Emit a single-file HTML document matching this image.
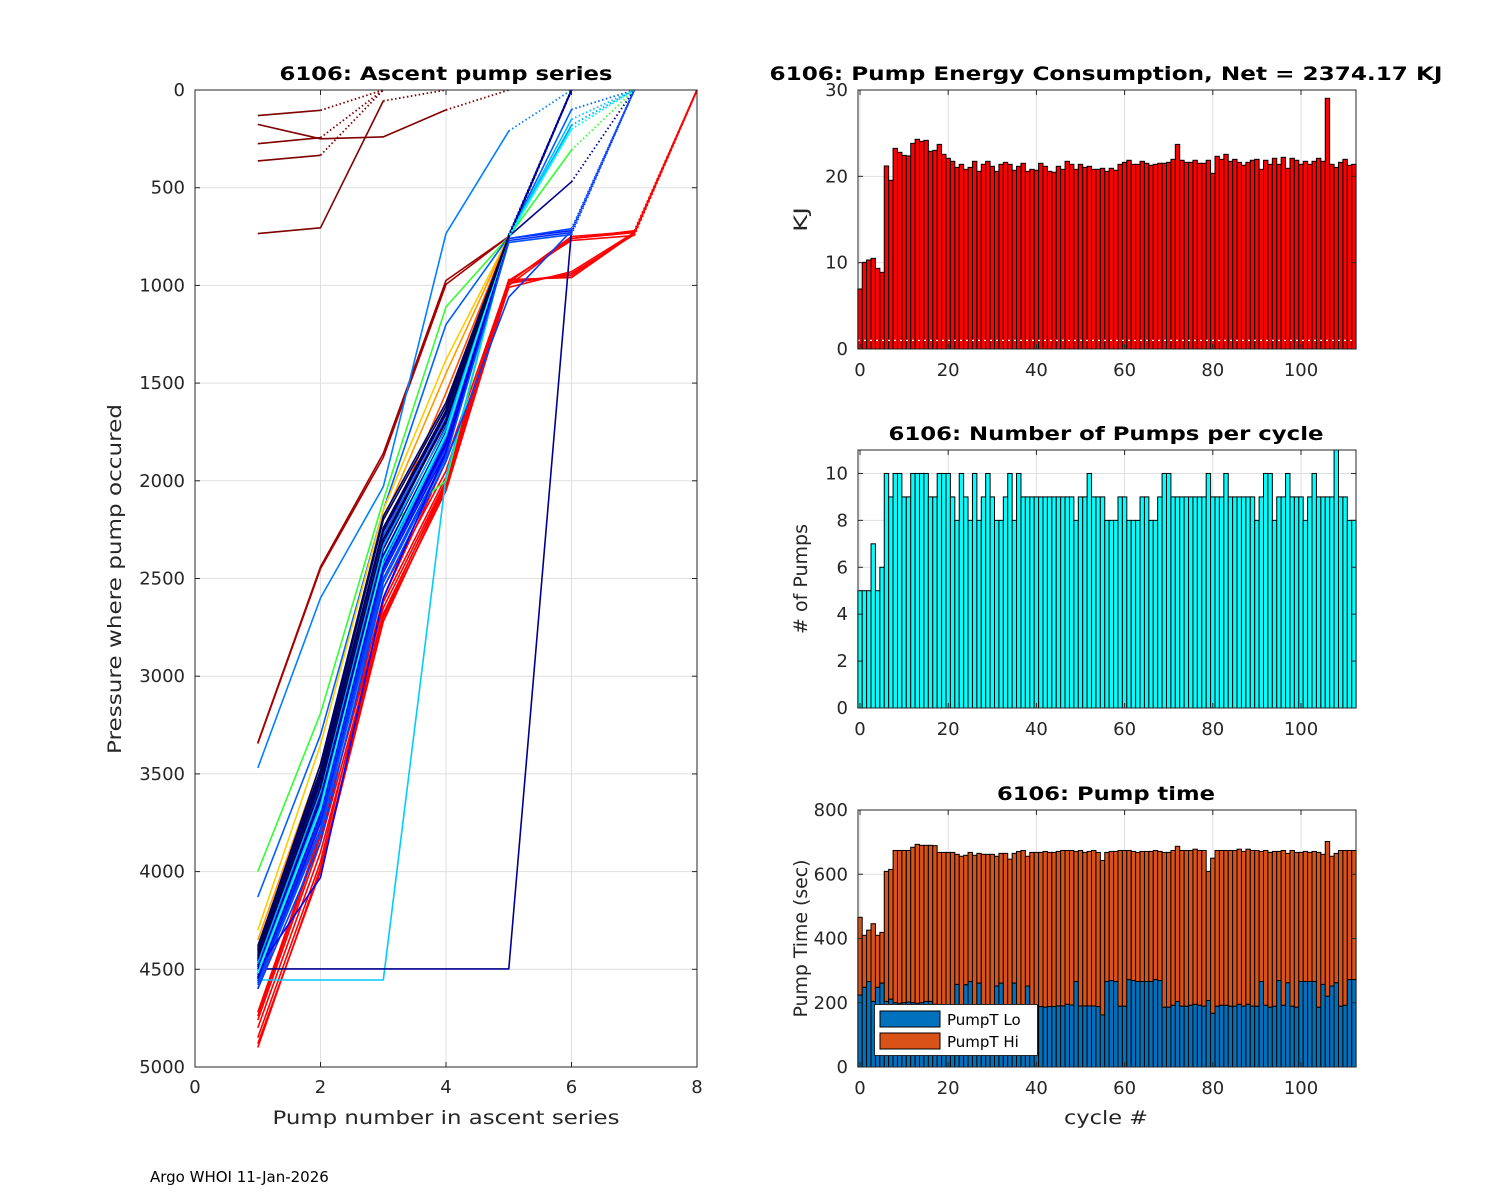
<!DOCTYPE html>
<html><head><meta charset="utf-8"><title>6106 pump charts</title>
<style>
html,body{margin:0;padding:0;background:#fff;}
svg{display:block;font-family:"DejaVu Sans","Liberation Sans",sans-serif;}
.tk{font-size:18px;fill:#262626;}
.tt{font-size:19px;font-weight:bold;fill:#000;}
.lb{font-size:19px;fill:#262626;}
</style></head>
<body>
<svg id="fig" width="1500" height="1200" viewBox="0 0 1500 1200" xmlns="http://www.w3.org/2000/svg">
<rect x="0" y="0" width="1500" height="1200" fill="#fff"/>
<g id="left"></g>
<g id="energy"></g>
<g id="pumps"></g>
<g id="ptime"></g>
<text x="150" y="1182" font-size="15" fill="#000" font-family="DejaVu Sans, sans-serif">Argo WHOI 11-Jan-2026</text>
</svg>
<script>
// ---------- Ascent pump series data (pressure at pump #1..N) ----------
const ascentColors = [
"#ff0000","#ff0000","#ff0000","#ff0000","#ff0000","#ff0000","#ff0000","#ff0000",
"#800000","#800000","#800000","#800000","#800000",
"#a00000","#a80000",
"#0080ff","#30ff30","#0060ff","#ffcc00","#ff9900","#ff5000","#30ff30",
"#00ccff","#000090","#000090",
"#000080","#00008f","#0000a0","#0000c0","#0000e0","#0000ff","#0010ff","#000070","#00006a","#000090",
"#0000b0","#0020ff","#0030ff","#0040ff","#0050ff","#0060ff","#00a0ff","#00c0ff","#000080","#0040ff",
"#0000ff","#000060","#000050","#0000d0","#00ffff","#000040"
];
const ascentPressures = [
[4720,3800,2650,2000,980,950,730,0],
[4760,3850,2680,2020,990,940,740,0],
[4800,3900,2700,2050,1000,760,720,0],
[4850,3950,2620,1980,970,960,735,0],
[4880,4000,2720,2030,985,750,725,0],
[4900,3980,2690,2010,1010,930,730,0],
[4740,3820,2600,1900,975,770,745,0],
[4600,3750,2550,1950,980,760,730,0],
[131,104,0],
[176,250,240,102,0],
[275,244,0],
[363,334,0],
[735,705,56,0],
[3340,2440,1860,975,750,0],
[3345,2450,1880,995,750,0],
[3470,2600,2030,735,210,0],
[4000,3190,2100,1110,750,307,0],
[4130,3300,2150,1200,750,0],
[4300,3350,2150,1380,750,0],
[4350,3450,2200,1450,750,0],
[4400,3500,2300,1550,750,0],
[4450,3500,2250,2000,750,200,0],
[4555,4555,4555,1980,750,0],
[4498,4498,4498,4498,4498,720,0],
[4450,3700,2400,1750,750,470,0],
[4420,3550,2300,1700,750,0],
[4450,3600,2350,1720,745,0],
[4480,3620,2380,1750,755,0],
[4500,3650,2400,1780,750,0],
[4520,3700,2420,1800,760,0],
[4540,3720,2450,1820,750,0],
[4560,3750,2470,1850,740,0],
[4400,3500,2250,1650,750,0],
[4380,3480,2200,1620,745,0],
[4460,3580,2320,1690,752,0],
[4490,3640,2390,1760,748,0],
[4530,3680,2410,1790,760,720,0],
[4550,3730,2460,1830,770,730,0],
[4570,3780,2500,1870,760,710,0],
[4580,3800,2520,1880,780,740,0],
[4440,3560,2280,1680,750,100,0],
[4470,3590,2330,1730,755,180,0],
[4510,3660,2430,1770,750,150,0],
[4430,3540,2260,1660,752,0],
[4600,3850,2550,1900,1060,720,0],
[4500,4030,2600,1850,750,0],
[4390,3450,2180,1600,748,0],
[4410,3520,2240,1640,751,0],
[4545,3690,2440,1810,755,0],
[4520,3680,2400,1760,750,200,0],
[4440,3570,2300,1690,750,0]
];
const ascentXTicks = [0,2,4,6,8];
const ascentYTicks = [0,500,1000,1500,2000,2500,3000,3500,4000,4500,5000];

// ---------- Energy per cycle (KJ) ----------
const energyValues = [
6.95,10.04,10.31,10.5,9.34,8.88,
21.2,19.54,23.24,22.78,22.43,22.36,
23.82,24.29,24.05,24.17,22.9,23.01,
23.7,22.55,22.09,21.74,21.04,21.39,
20.81,21.04,21.74,20.58,21.39,21.74,
21.16,20.58,21.39,21.62,21.39,20.7,
21.16,21.51,20.58,20.81,20.7,21.51,
21.16,20.58,20.47,21.16,20.81,21.74,
21.39,20.81,21.39,21.04,21.16,20.81,
20.81,20.93,20.58,20.93,
20.7,21.39,21.62,21.86,21.39,21.39,
21.74,21.51,21.28,21.39,21.51,21.51,
21.62,21.97,23.7,21.86,21.62,21.62,
21.86,21.51,21.51,21.86,20.35,22.32,
21.97,22.55,21.74,21.97,21.62,21.28,
21.62,21.86,21.97,20.81,21.86,21.39,
22.09,21.39,22.2,20.93,22.09,21.86,
21.39,21.74,21.39,21.74,22.09,21.74,
29.04,21.39,21.04,21.62,21.97,21.28,21.39
];
const energyYTicks = [0,10,20,30];
const energyRefLine = [1];

// ---------- Number of pumps per cycle ----------
const pumpCounts = [
5,5,5,7,5,6, 10,9,10,10,9,9, 10,10,10,10,9,9, 10,10,10,9,8,10, 9,8,10,8,9,10, 9,8,8,9,10,8, 10,
9,9,9,9,9,9,9,9,9,9,9,9,
8,9,9,10,9,9,9,
8,8,8, 9,9, 8,8,8, 9,9, 8,8, 9, 10,10, 9,9,9,9,9,9,9,9, 10, 9,9,9, 10,
9,9,9,9,9,9, 8, 9, 10,10, 8, 9,9, 10, 9,9,9, 8, 9, 10, 9,9,9,9, 11, 9,9, 8,8
];
const pumpYTicks = [0,2,4,6,8,10];

// ---------- Pump time per cycle (sec) ----------
const pumpTimeTotal = [
466,410,426,446,410,419, 609,615, 674,674,674,674, 684,693,690,690,690,689,
668,668,668,668, 662,656,659,668,659,665, 662,662,662,656,665,665,647,665,671,674,656,668,
668,668,671,668,668,671, 674,674,674, 671,674,668,671,674,668,643,
668,671,671,674,674,674,671,668,671,671,671,674,671,668,668,674,687,674,674,674,678,674,674,
609,650,674,674,674,674,674,678,671,678,674,674,671,674,668,671,671,674,665,674,668,668,
671,668,671,668,662,702,656,665,674,674,674,674
];
const pumpTimeLo = [
224,248,266,204,248,261,204,211, 200,198,200,202,200,198,200,204,204,195,
190,192,188,190, 257,190,256,266,190,261,192,188,190,252,261,190,188,261,190,192,252,190,188,
188,186,188,188,190,190,195,193,266,190,190,190,190,188,162,
266,269,266,189,189,272,269,266,266,266,266,272,269,186,186,192,204,189,189,192,195,192,189,
207,167,189,192,192,189,189,195,189,195,189,189,266,192,186,189,269,192,262,189,186,266,266,
266,266,186,257,220,252,262,189,192,272,272
];
const pumpTimeYTicks = [0,200,400,600,800];
const cycleXTicks = [0,20,40,60,80,100];
const legendLabels = ["PumpT Lo","PumpT Hi"];
const legendColors = ["#0072bd","#d95319"];
</script>
<script>
const NS = "http://www.w3.org/2000/svg";
function mk(parent, tag, attrs, txt){
  const e = document.createElementNS(NS, tag);
  for (const k in attrs) e.setAttribute(k, attrs[k]);
  if (txt !== undefined) e.textContent = txt;
  parent.appendChild(e);
  return e;
}
const GRID = "#dfdfdf", AX = "#262626";

// ===================== Left chart =====================
(function(){
  const g = document.getElementById('left');
  const L=195, R=697, T=90, B=1067;
  const xs = v => L + (v-0)/(8-0)*(R-L);
  const ys = p => T + p/5000*(B-T);
  ascentXTicks.forEach(v=>{
    const l = mk(g,'line',{x1:xs(v),x2:xs(v),y1:T,y2:B,stroke:GRID,'stroke-width':1});
    
    
  });
  ascentYTicks.forEach(v=>{
    const l = mk(g,'line',{x1:L,x2:R,y1:ys(v),y2:ys(v),stroke:GRID,'stroke-width':1});
    
    
  });
  ascentPressures.forEach((ps,i)=>{
    const col = ascentColors[i];
    const n = ps.length;
    const pts = [];
    for (let k=0;k<n-1;k++) pts.push(xs(k+1).toFixed(1)+','+ys(ps[k]).toFixed(1));
    const solid = mk(g,'polyline',{points:pts.join(' '),fill:'none',stroke:col,'stroke-width':1.6,'stroke-linejoin':'round'});
    
    
    const d = mk(g,'line',{x1:xs(n-1),y1:ys(ps[n-2]),x2:xs(n),y2:ys(ps[n-1]),stroke:col,'stroke-width':1.8,'stroke-dasharray':'1.5,2.5'});
    
    
  });
  const box = mk(g,'rect',{x:L,y:T,width:R-L,height:B-T,fill:'none',stroke:AX,'stroke-width':1});
  
  
  ascentXTicks.forEach(v=>{
    mk(g,'line',{x1:xs(v),x2:xs(v),y1:B,y2:B-5,stroke:AX});
    mk(g,'line',{x1:xs(v),x2:xs(v),y1:T,y2:T+5,stroke:AX});
    const t = mk(g,'text',{x:xs(v),y:B+26,'text-anchor':'middle',class:'tk'},String(v));
    
    
  });
  ascentYTicks.forEach(v=>{
    mk(g,'line',{x1:L,x2:L+5,y1:ys(v),y2:ys(v),stroke:AX});
    mk(g,'line',{x1:R,x2:R-5,y1:ys(v),y2:ys(v),stroke:AX});
    const t = mk(g,'text',{x:L-10,y:ys(v)+6,'text-anchor':'end',class:'tk'},String(v));
    
    
  });
  const tt = mk(g,'text',{x:446,y:80,'text-anchor':'middle',class:'tt',textLength:333,lengthAdjust:'spacingAndGlyphs'},'6106: Ascent pump series');
  
  
  const xl = mk(g,'text',{x:446,y:1124,'text-anchor':'middle',class:'lb',textLength:347,lengthAdjust:'spacingAndGlyphs'},'Pump number in ascent series');
  
  
  const yl = mk(g,'text',{x:0,y:0,'text-anchor':'middle',class:'lb',transform:'translate(121,579) rotate(-90)',textLength:350,lengthAdjust:'spacingAndGlyphs'},'Pressure where pump occured');
  
  
})();

// ===================== Right charts helpers =====================
const RL=858, RR=1356;
const xc = v => 860 + v*4.41;
const BW = 4.41;
function frame(g, T, B, ymax, yticks, ytitle, ylen, title, tlen, titleName){
  const ys = v => B - v/ymax*(B-T);
  cycleXTicks.forEach(v=>{
    const l = mk(g,'line',{x1:xc(v),x2:xc(v),y1:T,y2:B,stroke:GRID});
    
    
  });
  yticks.forEach(v=>{
    const l = mk(g,'line',{x1:RL,x2:RR,y1:ys(v),y2:ys(v),stroke:GRID});
    
    
  });
  const t = mk(g,'text',{x:1106,y:T-10,'text-anchor':'middle',class:'tt',textLength:tlen,lengthAdjust:'spacingAndGlyphs'},title);
  
  
  const yl = mk(g,'text',{x:0,y:0,'text-anchor':'middle',class:'lb',transform:'translate(807,'+((T+B)/2)+') rotate(-90)',textLength:ylen,lengthAdjust:'spacingAndGlyphs'},ytitle);
  
  
  return ys;
}
function axesOver(g, T, B, ys, yticks){
  const box = mk(g,'rect',{x:RL,y:T,width:RR-RL,height:B-T,fill:'none',stroke:AX});
  
  
  cycleXTicks.forEach(v=>{
    mk(g,'line',{x1:xc(v),x2:xc(v),y1:B,y2:B-5,stroke:AX});
    mk(g,'line',{x1:xc(v),x2:xc(v),y1:T,y2:T+5,stroke:AX});
    const t = mk(g,'text',{x:xc(v),y:B+27,'text-anchor':'middle',class:'tk'},String(v));
    
    
  });
  yticks.forEach(v=>{
    mk(g,'line',{x1:RL,x2:RL+5,y1:ys(v),y2:ys(v),stroke:AX});
    mk(g,'line',{x1:RR,x2:RR-5,y1:ys(v),y2:ys(v),stroke:AX});
    const t = mk(g,'text',{x:RL-10,y:ys(v)+6,'text-anchor':'end',class:'tk'},String(v));
    
    
  });
}

// ===================== Energy =====================
(function(){
  const g = document.getElementById('energy');
  const T=90,B=349;
  const ys = frame(g,T,B,30,energyYTicks,'KJ',25,'6106: Pump Energy Consumption,  Net = 2374.17 KJ',673,'energy-chart-title');
  energyValues.forEach((v,i)=>{
    const r = mk(g,'rect',{x:xc(i)-BW/2,y:ys(v),width:BW,height:B-ys(v),fill:'#ff0000',stroke:'#000','stroke-width':1});
    
    
  });
  energyRefLine.forEach(v=>{
    const l = mk(g,'line',{x1:RL,x2:RR,y1:ys(v),y2:ys(v),stroke:'#ffffff','stroke-width':1.2,'stroke-dasharray':'2,4'});
    
    
  });
  axesOver(g,T,B,ys,energyYTicks);
})();

// ===================== Pumps =====================
(function(){
  const g = document.getElementById('pumps');
  const T=450,B=708;
  const ys = frame(g,T,B,11,pumpYTicks,'# of Pumps',110,'6106: Number of Pumps per cycle',435,'pumps-chart-title');
  pumpCounts.forEach((v,i)=>{
    const r = mk(g,'rect',{x:xc(i)-BW/2,y:ys(v),width:BW,height:B-ys(v),fill:'#00ffff',stroke:'#000','stroke-width':1});
    
    
  });
  axesOver(g,T,B,ys,pumpYTicks);
})();

// ===================== Pump time =====================
(function(){
  const g = document.getElementById('ptime');
  const T=810,B=1067;
  const ys = frame(g,T,B,800,pumpTimeYTicks,'Pump Time (sec)',158,'6106: Pump time',218,'pump-time-chart-title');
  pumpTimeTotal.forEach((tot,i)=>{
    const lo = pumpTimeLo[i];
    const rh = mk(g,'rect',{x:xc(i)-BW/2,y:ys(tot),width:BW,height:ys(lo)-ys(tot),fill:legendColors[1],stroke:'#000','stroke-width':1});
    
    
    const rl = mk(g,'rect',{x:xc(i)-BW/2,y:ys(lo),width:BW,height:B-ys(lo),fill:legendColors[0],stroke:'#000','stroke-width':1});
    
    
  });
  axesOver(g,T,B,ys,pumpTimeYTicks);
  const xl = mk(g,'text',{x:1106,y:1124,'text-anchor':'middle',class:'lb',textLength:84,lengthAdjust:'spacingAndGlyphs'},'cycle #');
  
  
  const lg = mk(g,'g',{});
  
  
  const lb = mk(lg,'rect',{x:874.5,y:1004.5,width:163,height:51,fill:'#fff',stroke:AX,'stroke-width':1});
  
  
  legendLabels.forEach((lab,i)=>{
    const sw = mk(lg,'rect',{x:880,y:1011+i*22,width:60,height:16,fill:legendColors[i],stroke:'#000','stroke-width':1});
    
    
    const t = mk(lg,'text',{x:947,y:1025+i*22,'font-size':'15',fill:'#000'},lab);
    
    
  });
})();
</script>
</body></html>
